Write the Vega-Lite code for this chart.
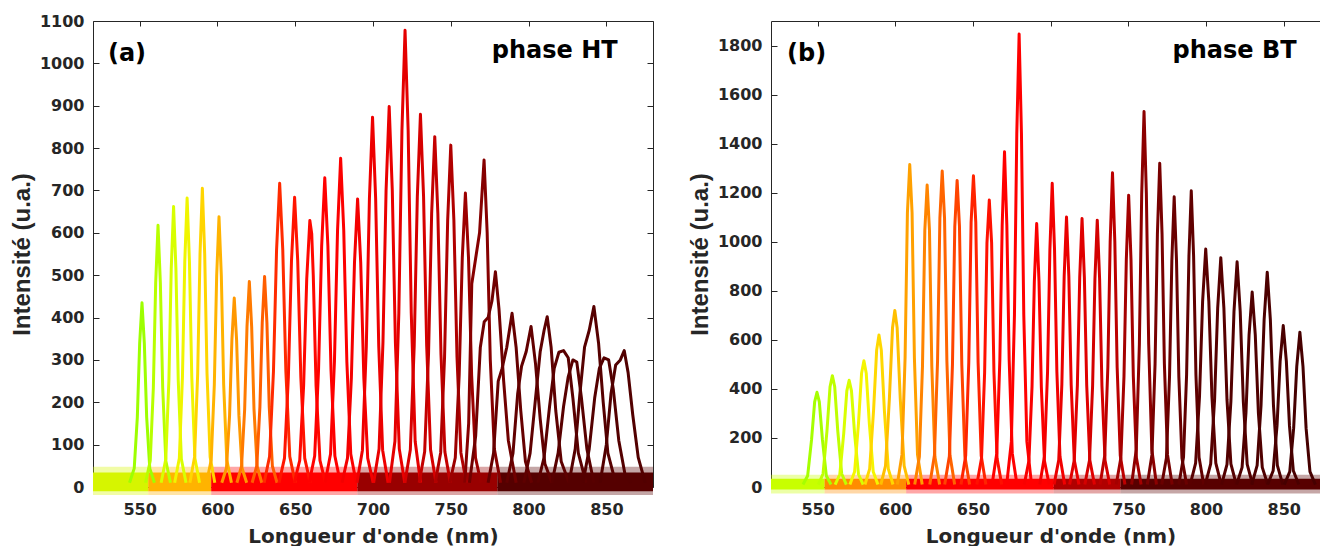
{
"$schema":"https://vega.github.io/schema/vega-lite/v6.json",
"background":"white",
"padding":{"left":10,"top":13,"right":0,"bottom":0},
"config":{"view":{"stroke":null},"axis":{"grid":false}},
"bounds":"flush",
"spacing":118,
"resolve":{"scale":{"x":"independent","y":"independent","color":"independent","opacity":"independent"}},
"datasets":{
"na":[{"s":"a_n1","k":"edge","x":520,"x2":555.5,"lo":-19,"hi":48},{"s":"a_n2","k":"edge","x":555.5,"x2":596,"lo":-19,"hi":48},{"s":"a_n3","k":"edge","x":596,"x2":690,"lo":-19,"hi":48},{"s":"a_n4","k":"edge","x":690,"x2":780,"lo":-19,"hi":48},{"s":"a_n5","k":"edge","x":780,"x2":880,"lo":-19,"hi":48},
{"s":"a_n1","k":"core","x":520,"x2":555.5,"lo":-10,"hi":34},{"s":"a_n2","k":"core","x":555.5,"x2":596,"lo":-10,"hi":34},{"s":"a_n3","k":"core","x":596,"x2":690,"lo":-10,"hi":34},{"s":"a_n4","k":"core","x":690,"x2":780,"lo":-10,"hi":34},{"s":"a_n5","k":"core","x":780,"x2":880,"lo":-10,"hi":34}],
"nb":[{"s":"b_n1","k":"edge","x":520,"x2":554.5,"lo":-26,"hi":50},{"s":"b_n2","k":"edge","x":554.5,"x2":607,"lo":-26,"hi":50},{"s":"b_n3","k":"edge","x":607,"x2":702,"lo":-26,"hi":50},{"s":"b_n4","k":"edge","x":702,"x2":745,"lo":-26,"hi":50},{"s":"b_n5","k":"edge","x":745,"x2":874,"lo":-26,"hi":50},
{"s":"b_n1","k":"core","x":520,"x2":554.5,"lo":-10,"hi":34},{"s":"b_n2","k":"core","x":554.5,"x2":607,"lo":-10,"hi":34},{"s":"b_n3","k":"core","x":607,"x2":702,"lo":-10,"hi":34},{"s":"b_n4","k":"core","x":702,"x2":745,"lo":-10,"hi":34},{"s":"b_n5","k":"core","x":745,"x2":874,"lo":-10,"hi":34}],
"sa":[
{"s":"a550","x":543.5,"y":10},{"s":"a550","x":546.5,"y":44},{"s":"a550","x":548.5,"y":165},{"s":"a550","x":550,"y":339},{"s":"a550","x":551.5,"y":435},{"s":"a550","x":553,"y":339},{"s":"a550","x":554.5,"y":165},{"s":"a550","x":556.5,"y":44},{"s":"a550","x":559.5,"y":10},
{"s":"a560","x":553.8,"y":10},{"s":"a560","x":556.8,"y":62},{"s":"a560","x":558.8,"y":235},{"s":"a560","x":560.3,"y":482},{"s":"a560","x":561.8,"y":618},{"s":"a560","x":563.3,"y":482},{"s":"a560","x":564.8,"y":235},{"s":"a560","x":566.8,"y":62},{"s":"a560","x":569.8,"y":10},
{"s":"a570","x":563.8,"y":10},{"s":"a570","x":566.8,"y":66},{"s":"a570","x":568.8,"y":252},{"s":"a570","x":570.3,"y":516},{"s":"a570","x":571.8,"y":662},{"s":"a570","x":573.3,"y":516},{"s":"a570","x":574.8,"y":252},{"s":"a570","x":576.8,"y":66},{"s":"a570","x":579.8,"y":10},
{"s":"a580","x":572.5,"y":10},{"s":"a580","x":575.5,"y":68},{"s":"a580","x":577.5,"y":259},{"s":"a580","x":579,"y":532},{"s":"a580","x":580.5,"y":682},{"s":"a580","x":582,"y":532},{"s":"a580","x":583.5,"y":259},{"s":"a580","x":585.5,"y":68},{"s":"a580","x":588.5,"y":10},
{"s":"a590","x":582.3,"y":10},{"s":"a590","x":585.3,"y":71},{"s":"a590","x":587.3,"y":268},{"s":"a590","x":588.8,"y":550},{"s":"a590","x":590.3,"y":705},{"s":"a590","x":591.8,"y":550},{"s":"a590","x":593.3,"y":268},{"s":"a590","x":595.3,"y":71},{"s":"a590","x":598.3,"y":10},
{"s":"a600","x":593,"y":10},{"s":"a600","x":596,"y":64},{"s":"a600","x":598,"y":242},{"s":"a600","x":599.5,"y":498},{"s":"a600","x":601,"y":638},{"s":"a600","x":602.5,"y":498},{"s":"a600","x":604,"y":242},{"s":"a600","x":606,"y":64},{"s":"a600","x":609,"y":10},
{"s":"a610","x":602.8,"y":10},{"s":"a610","x":605.8,"y":45},{"s":"a610","x":607.8,"y":169},{"s":"a610","x":609.3,"y":348},{"s":"a610","x":610.8,"y":446},{"s":"a610","x":612.3,"y":348},{"s":"a610","x":613.8,"y":169},{"s":"a610","x":615.8,"y":45},{"s":"a610","x":618.8,"y":10},
{"s":"a620","x":612.5,"y":10},{"s":"a620","x":615.5,"y":49},{"s":"a620","x":617.5,"y":184},{"s":"a620","x":619,"y":378},{"s":"a620","x":620.5,"y":485},{"s":"a620","x":622,"y":378},{"s":"a620","x":623.5,"y":184},{"s":"a620","x":625.5,"y":49},{"s":"a620","x":628.5,"y":10},
{"s":"a630","x":622.3,"y":10},{"s":"a630","x":625.3,"y":50},{"s":"a630","x":627.3,"y":189},{"s":"a630","x":628.8,"y":388},{"s":"a630","x":630.3,"y":497},{"s":"a630","x":631.8,"y":388},{"s":"a630","x":633.3,"y":189},{"s":"a630","x":635.3,"y":50},{"s":"a630","x":638.3,"y":10},
{"s":"a640","x":630,"y":10},{"s":"a640","x":633.5,"y":72},{"s":"a640","x":636,"y":272},{"s":"a640","x":638,"y":559},{"s":"a640","x":640,"y":717},{"s":"a640","x":642,"y":559},{"s":"a640","x":644,"y":272},{"s":"a640","x":646.5,"y":72},{"s":"a640","x":650,"y":10},
{"s":"a650","x":639.6,"y":10},{"s":"a650","x":643.1,"y":68},{"s":"a650","x":645.6,"y":260},{"s":"a650","x":647.6,"y":534},{"s":"a650","x":649.6,"y":684},{"s":"a650","x":651.6,"y":534},{"s":"a650","x":653.6,"y":260},{"s":"a650","x":656.1,"y":68},{"s":"a650","x":659.6,"y":10},
{"s":"a660","x":649.4,"y":10},{"s":"a660","x":652.9,"y":63},{"s":"a660","x":655.4,"y":239},{"s":"a660","x":657.4,"y":491},{"s":"a660","x":659.4,"y":629},{"s":"a660","x":660.6,"y":598},{"s":"a660","x":661.6,"y":500},{"s":"a660","x":663.4,"y":239},{"s":"a660","x":665.9,"y":63},{"s":"a660","x":669.4,"y":10},
{"s":"a670","x":659,"y":10},{"s":"a670","x":662.5,"y":73},{"s":"a670","x":665,"y":277},{"s":"a670","x":667,"y":569},{"s":"a670","x":669,"y":730},{"s":"a670","x":671,"y":569},{"s":"a670","x":673,"y":277},{"s":"a670","x":675.5,"y":73},{"s":"a670","x":679,"y":10},
{"s":"a680","x":669.2,"y":10},{"s":"a680","x":672.7,"y":78},{"s":"a680","x":675.2,"y":295},{"s":"a680","x":677.2,"y":605},{"s":"a680","x":679.2,"y":776},{"s":"a680","x":681.2,"y":605},{"s":"a680","x":683.2,"y":295},{"s":"a680","x":685.7,"y":78},{"s":"a680","x":689.2,"y":10},
{"s":"a690","x":680.1,"y":10},{"s":"a690","x":683.6,"y":68},{"s":"a690","x":686.1,"y":258},{"s":"a690","x":688.1,"y":530},{"s":"a690","x":690.1,"y":680},{"s":"a690","x":692.1,"y":530},{"s":"a690","x":694.1,"y":258},{"s":"a690","x":696.6,"y":68},{"s":"a690","x":700.1,"y":10},
{"s":"a700","x":689.7,"y":10},{"s":"a700","x":693.2,"y":87},{"s":"a700","x":695.7,"y":332},{"s":"a700","x":697.7,"y":681},{"s":"a700","x":699.7,"y":873},{"s":"a700","x":701.7,"y":681},{"s":"a700","x":703.7,"y":332},{"s":"a700","x":706.2,"y":87},{"s":"a700","x":709.7,"y":10},
{"s":"a710","x":700.4,"y":10},{"s":"a710","x":703.9,"y":90},{"s":"a710","x":706.4,"y":341},{"s":"a710","x":708.4,"y":700},{"s":"a710","x":710.4,"y":898},{"s":"a710","x":712.4,"y":700},{"s":"a710","x":714.4,"y":341},{"s":"a710","x":716.9,"y":90},{"s":"a710","x":720.4,"y":10},
{"s":"a720","x":710.6,"y":10},{"s":"a720","x":714.1,"y":108},{"s":"a720","x":716.6,"y":410},{"s":"a720","x":718.6,"y":841},{"s":"a720","x":720.6,"y":1078},{"s":"a720","x":722.6,"y":841},{"s":"a720","x":724.6,"y":410},{"s":"a720","x":727.1,"y":108},{"s":"a720","x":730.6,"y":10},
{"s":"a730","x":720.5,"y":10},{"s":"a730","x":724,"y":88},{"s":"a730","x":726.5,"y":334},{"s":"a730","x":728.5,"y":686},{"s":"a730","x":730.5,"y":880},{"s":"a730","x":732.5,"y":686},{"s":"a730","x":734.5,"y":334},{"s":"a730","x":737,"y":88},{"s":"a730","x":740.5,"y":10},
{"s":"a740","x":729.7,"y":10},{"s":"a740","x":733.2,"y":83},{"s":"a740","x":735.7,"y":314},{"s":"a740","x":737.7,"y":645},{"s":"a740","x":739.7,"y":827},{"s":"a740","x":741.7,"y":645},{"s":"a740","x":743.7,"y":314},{"s":"a740","x":746.2,"y":83},{"s":"a740","x":749.7,"y":10},
{"s":"a750","x":740,"y":10},{"s":"a750","x":743.5,"y":81},{"s":"a750","x":746,"y":307},{"s":"a750","x":748,"y":629},{"s":"a750","x":750,"y":807},{"s":"a750","x":752,"y":629},{"s":"a750","x":754,"y":307},{"s":"a750","x":756.5,"y":81},{"s":"a750","x":760,"y":10},
{"s":"a760","x":749.4,"y":10},{"s":"a760","x":752.9,"y":69},{"s":"a760","x":755.4,"y":264},{"s":"a760","x":757.4,"y":541},{"s":"a760","x":759.4,"y":694},{"s":"a760","x":761.4,"y":541},{"s":"a760","x":763.4,"y":264},{"s":"a760","x":765.9,"y":69},{"s":"a760","x":769.4,"y":10},
{"s":"a771","x":759,"y":10},{"s":"a771","x":761.5,"y":150},{"s":"a771","x":763.5,"y":480},{"s":"a771","x":766,"y":540},{"s":"a771","x":768.5,"y":600},{"s":"a771","x":771.4,"y":772},{"s":"a771","x":773.4,"y":600},{"s":"a771","x":775.4,"y":300},{"s":"a771","x":778,"y":90},{"s":"a771","x":782,"y":10},
{"s":"a780","x":762,"y":10},{"s":"a780","x":766,"y":120},{"s":"a780","x":769,"y":330},{"s":"a780","x":771.5,"y":390},{"s":"a780","x":774,"y":400},{"s":"a780","x":776.5,"y":440},{"s":"a780","x":778.7,"y":508},{"s":"a780","x":781,"y":420},{"s":"a780","x":784,"y":250},{"s":"a780","x":787,"y":110},{"s":"a780","x":792,"y":10},
{"s":"a790","x":774,"y":10},{"s":"a790","x":777.5,"y":80},{"s":"a790","x":780.5,"y":250},{"s":"a790","x":783,"y":280},{"s":"a790","x":786,"y":330},{"s":"a790","x":789.4,"y":410},{"s":"a790","x":792,"y":330},{"s":"a790","x":795,"y":180},{"s":"a790","x":798,"y":60},{"s":"a790","x":802,"y":10},
{"s":"a800","x":786,"y":10},{"s":"a800","x":790,"y":80},{"s":"a800","x":793,"y":220},{"s":"a800","x":795.5,"y":285},{"s":"a800","x":798.5,"y":320},{"s":"a800","x":801.6,"y":379},{"s":"a800","x":804.5,"y":290},{"s":"a800","x":807.5,"y":160},{"s":"a800","x":810.5,"y":55},{"s":"a800","x":815,"y":10},
{"s":"a810","x":797,"y":10},{"s":"a810","x":801,"y":80},{"s":"a810","x":804.5,"y":210},{"s":"a810","x":807.5,"y":320},{"s":"a810","x":810,"y":370},{"s":"a810","x":812,"y":402},{"s":"a810","x":814.5,"y":330},{"s":"a810","x":817.5,"y":180},{"s":"a810","x":821,"y":60},{"s":"a810","x":826,"y":10},
{"s":"a820","x":806,"y":10},{"s":"a820","x":810,"y":70},{"s":"a820","x":813.5,"y":190},{"s":"a820","x":816.5,"y":280},{"s":"a820","x":819.5,"y":318},{"s":"a820","x":822.5,"y":322},{"s":"a820","x":825.5,"y":305},{"s":"a820","x":828.5,"y":210},{"s":"a820","x":832,"y":80},{"s":"a820","x":837,"y":10},
{"s":"a830","x":815,"y":10},{"s":"a830","x":819,"y":80},{"s":"a830","x":822.5,"y":190},{"s":"a830","x":825.5,"y":260},{"s":"a830","x":828.5,"y":300},{"s":"a830","x":831,"y":295},{"s":"a830","x":834,"y":210},{"s":"a830","x":837.5,"y":90},{"s":"a830","x":842,"y":10},
{"s":"a840","x":826,"y":10},{"s":"a840","x":830,"y":90},{"s":"a840","x":833,"y":220},{"s":"a840","x":836,"y":330},{"s":"a840","x":839,"y":370},{"s":"a840","x":842,"y":426},{"s":"a840","x":845,"y":340},{"s":"a840","x":848,"y":200},{"s":"a840","x":851,"y":80},{"s":"a840","x":856,"y":10},
{"s":"a850","x":835,"y":10},{"s":"a850","x":839,"y":90},{"s":"a850","x":842.5,"y":210},{"s":"a850","x":845.5,"y":280},{"s":"a850","x":848.5,"y":305},{"s":"a850","x":851.5,"y":300},{"s":"a850","x":854.5,"y":230},{"s":"a850","x":858,"y":110},{"s":"a850","x":862,"y":30},{"s":"a850","x":866,"y":10},
{"s":"a860","x":846,"y":10},{"s":"a860","x":850,"y":100},{"s":"a860","x":853,"y":220},{"s":"a860","x":856,"y":288},{"s":"a860","x":859,"y":300},{"s":"a860","x":861.5,"y":322},{"s":"a860","x":864,"y":270},{"s":"a860","x":867,"y":170},{"s":"a860","x":870.5,"y":70},{"s":"a860","x":875,"y":10}
],
"sb":[
{"s":"b550","x":540.6,"y":10},{"s":"b550","x":543.6,"y":46},{"s":"b550","x":546.1,"y":193},{"s":"b550","x":548.1,"y":347},{"s":"b550","x":549.6,"y":386},{"s":"b550","x":551.1,"y":347},{"s":"b550","x":553.1,"y":193},{"s":"b550","x":555.6,"y":46},{"s":"b550","x":558.6,"y":10},
{"s":"b560","x":550.5,"y":10},{"s":"b560","x":553.5,"y":54},{"s":"b560","x":556,"y":227},{"s":"b560","x":558,"y":409},{"s":"b560","x":559.5,"y":454},{"s":"b560","x":561,"y":409},{"s":"b560","x":563,"y":227},{"s":"b560","x":565.5,"y":54},{"s":"b560","x":568.5,"y":10},
{"s":"b570","x":561.3,"y":10},{"s":"b570","x":564.3,"y":52},{"s":"b570","x":566.8,"y":218},{"s":"b570","x":568.8,"y":392},{"s":"b570","x":570.3,"y":435},{"s":"b570","x":571.8,"y":392},{"s":"b570","x":573.8,"y":218},{"s":"b570","x":576.3,"y":52},{"s":"b570","x":579.3,"y":10},
{"s":"b580","x":570.8,"y":10},{"s":"b580","x":573.8,"y":62},{"s":"b580","x":576.3,"y":258},{"s":"b580","x":578.3,"y":464},{"s":"b580","x":579.8,"y":515},{"s":"b580","x":581.3,"y":464},{"s":"b580","x":583.3,"y":258},{"s":"b580","x":585.8,"y":62},{"s":"b580","x":588.8,"y":10},
{"s":"b590","x":580.5,"y":10},{"s":"b590","x":583.5,"y":74},{"s":"b590","x":586,"y":310},{"s":"b590","x":588,"y":558},{"s":"b590","x":589.5,"y":620},{"s":"b590","x":591,"y":558},{"s":"b590","x":593,"y":310},{"s":"b590","x":595.5,"y":74},{"s":"b590","x":598.5,"y":10},
{"s":"b600","x":590.7,"y":10},{"s":"b600","x":593.7,"y":86},{"s":"b600","x":596.2,"y":360},{"s":"b600","x":598.2,"y":648},{"s":"b600","x":599.7,"y":720},{"s":"b600","x":601.2,"y":648},{"s":"b600","x":603.2,"y":360},{"s":"b600","x":605.7,"y":86},{"s":"b600","x":608.7,"y":10},
{"s":"b610","x":601.3,"y":10},{"s":"b610","x":604.3,"y":132},{"s":"b610","x":606.3,"y":526},{"s":"b610","x":607.8,"y":1118},{"s":"b610","x":609.3,"y":1315},{"s":"b610","x":610.8,"y":1118},{"s":"b610","x":612.3,"y":526},{"s":"b610","x":614.3,"y":132},{"s":"b610","x":617.3,"y":10},
{"s":"b620","x":612.5,"y":10},{"s":"b620","x":615.5,"y":123},{"s":"b620","x":617.5,"y":492},{"s":"b620","x":619,"y":1046},{"s":"b620","x":620.5,"y":1231},{"s":"b620","x":622,"y":1046},{"s":"b620","x":623.5,"y":492},{"s":"b620","x":625.5,"y":123},{"s":"b620","x":628.5,"y":10},
{"s":"b630","x":622.2,"y":10},{"s":"b630","x":625.2,"y":129},{"s":"b630","x":627.2,"y":515},{"s":"b630","x":628.7,"y":1095},{"s":"b630","x":630.2,"y":1288},{"s":"b630","x":631.7,"y":1095},{"s":"b630","x":633.2,"y":515},{"s":"b630","x":635.2,"y":129},{"s":"b630","x":638.2,"y":10},
{"s":"b640","x":631.8,"y":10},{"s":"b640","x":634.8,"y":125},{"s":"b640","x":636.8,"y":500},{"s":"b640","x":638.3,"y":1063},{"s":"b640","x":639.8,"y":1250},{"s":"b640","x":641.3,"y":1063},{"s":"b640","x":642.8,"y":500},{"s":"b640","x":644.8,"y":125},{"s":"b640","x":647.8,"y":10},
{"s":"b650","x":642.3,"y":10},{"s":"b650","x":645.3,"y":127},{"s":"b650","x":647.3,"y":508},{"s":"b650","x":648.8,"y":1079},{"s":"b650","x":650.3,"y":1269},{"s":"b650","x":651.8,"y":1079},{"s":"b650","x":653.3,"y":508},{"s":"b650","x":655.3,"y":127},{"s":"b650","x":658.3,"y":10},
{"s":"b660","x":652.5,"y":10},{"s":"b660","x":655.5,"y":117},{"s":"b660","x":657.5,"y":468},{"s":"b660","x":659,"y":995},{"s":"b660","x":660.5,"y":1170},{"s":"b660","x":662,"y":995},{"s":"b660","x":663.5,"y":468},{"s":"b660","x":665.5,"y":117},{"s":"b660","x":668.5,"y":10},
{"s":"b670","x":662.3,"y":10},{"s":"b670","x":665.3,"y":137},{"s":"b670","x":667.3,"y":519},{"s":"b670","x":668.8,"y":1066},{"s":"b670","x":670.3,"y":1367},{"s":"b670","x":671.8,"y":1066},{"s":"b670","x":673.3,"y":519},{"s":"b670","x":675.3,"y":137},{"s":"b670","x":678.3,"y":10},
{"s":"b680","x":671.7,"y":10},{"s":"b680","x":674.7,"y":185},{"s":"b680","x":676.7,"y":702},{"s":"b680","x":678.2,"y":1441},{"s":"b680","x":679.7,"y":1847},{"s":"b680","x":681.2,"y":1441},{"s":"b680","x":682.7,"y":702},{"s":"b680","x":684.7,"y":185},{"s":"b680","x":687.7,"y":10},
{"s":"b690","x":683,"y":10},{"s":"b690","x":686,"y":107},{"s":"b690","x":688,"y":408},{"s":"b690","x":689.5,"y":838},{"s":"b690","x":691,"y":1074},{"s":"b690","x":692.5,"y":838},{"s":"b690","x":694,"y":408},{"s":"b690","x":696,"y":107},{"s":"b690","x":699,"y":10},
{"s":"b700","x":693,"y":10},{"s":"b700","x":696,"y":124},{"s":"b700","x":698,"y":470},{"s":"b700","x":699.5,"y":966},{"s":"b700","x":701,"y":1238},{"s":"b700","x":702.5,"y":966},{"s":"b700","x":704,"y":470},{"s":"b700","x":706,"y":124},{"s":"b700","x":709,"y":10},
{"s":"b710","x":702.2,"y":10},{"s":"b710","x":705.2,"y":110},{"s":"b710","x":707.2,"y":418},{"s":"b710","x":708.7,"y":859},{"s":"b710","x":710.2,"y":1101},{"s":"b710","x":711.7,"y":859},{"s":"b710","x":713.2,"y":418},{"s":"b710","x":715.2,"y":110},{"s":"b710","x":718.2,"y":10},
{"s":"b720","x":712.2,"y":10},{"s":"b720","x":715.2,"y":110},{"s":"b720","x":717.2,"y":416},{"s":"b720","x":718.7,"y":854},{"s":"b720","x":720.2,"y":1095},{"s":"b720","x":721.7,"y":854},{"s":"b720","x":723.2,"y":416},{"s":"b720","x":725.2,"y":110},{"s":"b720","x":728.2,"y":10},
{"s":"b730","x":722,"y":10},{"s":"b730","x":725,"y":109},{"s":"b730","x":727,"y":413},{"s":"b730","x":728.5,"y":849},{"s":"b730","x":730,"y":1088},{"s":"b730","x":731.5,"y":849},{"s":"b730","x":733,"y":413},{"s":"b730","x":735,"y":109},{"s":"b730","x":738,"y":10},
{"s":"b740","x":731.8,"y":10},{"s":"b740","x":734.8,"y":128},{"s":"b740","x":736.8,"y":487},{"s":"b740","x":738.3,"y":999},{"s":"b740","x":739.8,"y":1281},{"s":"b740","x":741.3,"y":999},{"s":"b740","x":742.8,"y":487},{"s":"b740","x":744.8,"y":128},{"s":"b740","x":747.8,"y":10},
{"s":"b750","x":742.2,"y":10},{"s":"b750","x":745.2,"y":119},{"s":"b750","x":747.2,"y":452},{"s":"b750","x":748.7,"y":928},{"s":"b750","x":750.2,"y":1190},{"s":"b750","x":751.7,"y":928},{"s":"b750","x":753.2,"y":452},{"s":"b750","x":755.2,"y":119},{"s":"b750","x":758.2,"y":10},
{"s":"b760","x":752.1,"y":10},{"s":"b760","x":755.1,"y":153},{"s":"b760","x":757.1,"y":582},{"s":"b760","x":758.6,"y":1194},{"s":"b760","x":760.1,"y":1531},{"s":"b760","x":761.6,"y":1194},{"s":"b760","x":763.1,"y":582},{"s":"b760","x":765.1,"y":153},{"s":"b760","x":768.1,"y":10},
{"s":"b770","x":762.2,"y":10},{"s":"b770","x":765.2,"y":132},{"s":"b770","x":767.2,"y":502},{"s":"b770","x":768.7,"y":1030},{"s":"b770","x":770.2,"y":1320},{"s":"b770","x":771.7,"y":1030},{"s":"b770","x":773.2,"y":502},{"s":"b770","x":775.2,"y":132},{"s":"b770","x":778.2,"y":10},
{"s":"b780","x":771.5,"y":10},{"s":"b780","x":774.5,"y":118},{"s":"b780","x":776.5,"y":450},{"s":"b780","x":778,"y":923},{"s":"b780","x":779.5,"y":1183},{"s":"b780","x":781,"y":923},{"s":"b780","x":782.5,"y":450},{"s":"b780","x":784.5,"y":118},{"s":"b780","x":787.5,"y":10},
{"s":"b790","x":782.5,"y":10},{"s":"b790","x":785.5,"y":121},{"s":"b790","x":787.5,"y":459},{"s":"b790","x":789,"y":942},{"s":"b790","x":790.5,"y":1208},{"s":"b790","x":792,"y":942},{"s":"b790","x":793.5,"y":459},{"s":"b790","x":795.5,"y":121},{"s":"b790","x":798.5,"y":10},
{"s":"b800","x":789.8,"y":10},{"s":"b800","x":793.3,"y":97},{"s":"b800","x":795.8,"y":369},{"s":"b800","x":797.8,"y":757},{"s":"b800","x":799.8,"y":970},{"s":"b800","x":801.8,"y":757},{"s":"b800","x":803.8,"y":369},{"s":"b800","x":806.3,"y":97},{"s":"b800","x":809.8,"y":10},
{"s":"b810","x":799.5,"y":10},{"s":"b810","x":803,"y":94},{"s":"b810","x":805.5,"y":355},{"s":"b810","x":807.5,"y":729},{"s":"b810","x":809.5,"y":935},{"s":"b810","x":811.5,"y":729},{"s":"b810","x":813.5,"y":355},{"s":"b810","x":816,"y":94},{"s":"b810","x":819.5,"y":10},
{"s":"b820","x":810,"y":10},{"s":"b820","x":813.5,"y":92},{"s":"b820","x":816,"y":349},{"s":"b820","x":818,"y":716},{"s":"b820","x":820,"y":918},{"s":"b820","x":822,"y":716},{"s":"b820","x":824,"y":349},{"s":"b820","x":826.5,"y":92},{"s":"b820","x":830,"y":10},
{"s":"b830","x":819.7,"y":10},{"s":"b830","x":823.2,"y":80},{"s":"b830","x":825.7,"y":302},{"s":"b830","x":827.7,"y":620},{"s":"b830","x":829.7,"y":795},{"s":"b830","x":831.7,"y":620},{"s":"b830","x":833.7,"y":302},{"s":"b830","x":836.2,"y":80},{"s":"b830","x":839.7,"y":10},
{"s":"b840","x":829.4,"y":10},{"s":"b840","x":832.9,"y":88},{"s":"b840","x":835.4,"y":333},{"s":"b840","x":837.4,"y":683},{"s":"b840","x":839.4,"y":876},{"s":"b840","x":841.4,"y":683},{"s":"b840","x":843.4,"y":333},{"s":"b840","x":845.9,"y":88},{"s":"b840","x":849.4,"y":10},
{"s":"b850","x":839.7,"y":10},{"s":"b850","x":843.2,"y":66},{"s":"b850","x":845.7,"y":250},{"s":"b850","x":847.7,"y":513},{"s":"b850","x":849.7,"y":658},{"s":"b850","x":851.7,"y":513},{"s":"b850","x":853.7,"y":250},{"s":"b850","x":856.2,"y":66},{"s":"b850","x":859.7,"y":10},
{"s":"b860","x":850.4,"y":10},{"s":"b860","x":853.9,"y":63},{"s":"b860","x":856.4,"y":240},{"s":"b860","x":858.4,"y":492},{"s":"b860","x":860.4,"y":631},{"s":"b860","x":862.4,"y":492},{"s":"b860","x":864.4,"y":240},{"s":"b860","x":866.9,"y":63},{"s":"b860","x":870.4,"y":10}
]
},
"hconcat":[
{
"width":560,"height":466,
"layer":[
{"data":{"name":"na"},"mark":{"type":"rect","clip":false},
"encoding":{
"x":{"field":"x","type":"quantitative","scale":{"domain":[520,880],"nice":false,"zero":false},
"axis":{"orient":"bottom","values":[550,600,650,700,750,800,850],"ticks":false,"tickSize":0,"domain":true,"domainColor":"#262626","labelFont":"DejaVu Sans","labelFontSize":16,"labelFontWeight":"bold","labelColor":"#262626","labelPadding":14,"title":"Longueur d'onde (nm)","titleFont":"DejaVu Sans","titleFontSize":20,"titleFontWeight":"bold","titleColor":"#262626","titleBaseline":"alphabetic","titleAlign":"center","titleX":280,"titleY":55}},
"x2":{"field":"x2"},
"y":{"field":"lo","type":"quantitative","scale":{"domain":[0,1100],"nice":false,"zero":false},
"axis":{"orient":"left","values":[0,100,200,300,400,500,600,700,800,900,1000,1100],"format":"d","tickSize":-6,"tickColor":"#262626","domainColor":"#262626","labelFont":"DejaVu Sans","labelFontSize":16,"labelFontWeight":"bold","labelColor":"#262626","labelPadding":15,"title":"Intensité (u.a.)","titleFont":"Liberation Sans","titleFontSize":24,"titleFontWeight":"bold","titleColor":"#262626","titleAngle":270,"titleAlign":"center","titleBaseline":"alphabetic","titleX":-64,"titleY":233}},
"y2":{"field":"hi"},
"opacity":{"field":"k","type":"nominal","legend":null,"scale":{"domain":["edge","core"],"range":[0.35,1]}},
"color":{"field":"s","type":"nominal","legend":null,"scale":{"domain":["a_n1","a_n2","a_n3","a_n4","a_n5","a550","a560","a570","a580","a590","a600","a610","a620","a630","a640","a650","a660","a670","a680","a690","a700","a710","a720","a730","a740","a750","a760","a771","a780","a790","a800","a810","a820","a830","a840","a850","a860"],"range":["#d6f500","#ffb300","#ff0000","#990000","#550000","#9dff00","#b8ff00","#d8ff00","#f0f500","#ffd500","#ffb300","#ff9800","#ff7a00","#ff5e00","#ff2a00","#ff1400","#ff0800","#ff0000","#fc0000","#f40000","#ee0000","#ea0000","#e40000","#d60000","#c40000","#b00000","#9c0000","#860000","#700000","#660000","#620000","#5e0000","#5a0000","#580000","#560000","#540000","#520000"]}}
}},
{"data":{"name":"sa"},"mark":{"type":"line","strokeWidth":3,"strokeJoin":"round","clip":false},
"encoding":{
"x":{"field":"x","type":"quantitative","axis":{"orient":"top","values":[550,600,650,700,750,800,850],"tickSize":-5,"tickColor":"#262626","domainColor":"#262626","labels":false,"title":null}},
"y":{"field":"y","type":"quantitative","axis":{"orient":"right","values":[0,100,200,300,400,500,600,700,800,900,1000,1100],"tickSize":-6,"tickColor":"#262626","domainColor":"#262626","labels":false,"title":null}},
"color":{"field":"s","type":"nominal","legend":null}
}},
{"data":{"values":[{}]},"mark":{"type":"text","font":"DejaVu Sans","fontSize":24,"fontWeight":"bold","color":"black","align":"left","baseline":"alphabetic"},
"encoding":{"x":{"datum":529.6,"type":"quantitative","axis":null},"y":{"datum":1006,"type":"quantitative","axis":null},"text":{"value":"(a)"}}},
{"data":{"values":[{}]},"mark":{"type":"text","font":"DejaVu Sans","fontSize":24,"fontWeight":"bold","color":"black","align":"right","baseline":"alphabetic"},
"encoding":{"x":{"datum":857.3,"type":"quantitative","axis":null},"y":{"datum":1012,"type":"quantitative","axis":null},"text":{"value":"phase HT"}}}
]
},
{
"width":550,"height":466,
"layer":[
{"data":{"name":"nb"},"mark":{"type":"rect","clip":false},
"encoding":{
"x":{"field":"x","type":"quantitative","scale":{"domain":[520,874],"nice":false,"zero":false},
"axis":{"orient":"bottom","values":[550,600,650,700,750,800,850],"ticks":false,"tickSize":0,"domain":true,"domainColor":"#262626","labelFont":"DejaVu Sans","labelFontSize":16,"labelFontWeight":"bold","labelColor":"#262626","labelPadding":14,"title":"Longueur d'onde (nm)","titleFont":"DejaVu Sans","titleFontSize":20,"titleFontWeight":"bold","titleColor":"#262626","titleBaseline":"alphabetic","titleAlign":"center","titleX":279.5,"titleY":55}},
"x2":{"field":"x2"},
"y":{"field":"lo","type":"quantitative","scale":{"domain":[0,1900],"nice":false,"zero":false},
"axis":{"orient":"left","values":[0,200,400,600,800,1000,1200,1400,1600,1800],"format":"d","tickSize":-6,"tickColor":"#262626","domainColor":"#262626","labelFont":"DejaVu Sans","labelFontSize":16,"labelFontWeight":"bold","labelColor":"#262626","labelPadding":15,"title":"Intensité (u.a.)","titleFont":"Liberation Sans","titleFontSize":24,"titleFontWeight":"bold","titleColor":"#262626","titleAngle":270,"titleAlign":"center","titleBaseline":"alphabetic","titleX":-64,"titleY":233}},
"y2":{"field":"hi"},
"opacity":{"field":"k","type":"nominal","legend":null,"scale":{"domain":["edge","core"],"range":[0.35,1]}},
"color":{"field":"s","type":"nominal","legend":null,"scale":{"domain":["b_n1","b_n2","b_n3","b_n4","b_n5","b550","b560","b570","b580","b590","b600","b610","b620","b630","b640","b650","b660","b670","b680","b690","b700","b710","b720","b730","b740","b750","b760","b770","b780","b790","b800","b810","b820","b830","b840","b850","b860"],"range":["#c8ff00","#ff8c00","#ff0000","#b00000","#580000","#a6ff00","#bfff00","#d9ff00","#f5f500","#ffd800","#ffbf00","#ffa000","#ff8400","#ff6400","#ff4400","#ff2400","#ff1000","#ff0000","#ff0000","#fa0000","#f20000","#ea0000","#e00000","#d40000","#bc0000","#a40000","#8c0000","#780000","#6a0000","#600000","#5a0000","#560000","#520000","#500000","#4c0000","#4a0000","#460000"]}}
}},
{"data":{"name":"sb"},"mark":{"type":"line","strokeWidth":3,"strokeJoin":"round","clip":false},
"encoding":{
"x":{"field":"x","type":"quantitative","axis":{"orient":"top","values":[550,600,650,700,750,800,850],"tickSize":-5,"tickColor":"#262626","domainColor":"#262626","labels":false,"title":null}},
"y":{"field":"y","type":"quantitative","axis":{"orient":"right","domain":false,"ticks":false,"labels":false,"title":null}},
"color":{"field":"s","type":"nominal","legend":null}
}},
{"data":{"values":[{}]},"mark":{"type":"text","font":"DejaVu Sans","fontSize":24,"fontWeight":"bold","color":"black","align":"left","baseline":"alphabetic"},
"encoding":{"x":{"datum":530.3,"type":"quantitative","axis":null},"y":{"datum":1737,"type":"quantitative","axis":null},"text":{"value":"(b)"}}},
{"data":{"values":[{}]},"mark":{"type":"text","font":"DejaVu Sans","fontSize":24,"fontWeight":"bold","color":"black","align":"right","baseline":"alphabetic"},
"encoding":{"x":{"datum":858.3,"type":"quantitative","axis":null},"y":{"datum":1748,"type":"quantitative","axis":null},"text":{"value":"phase BT"}}}
]
}
]
}
